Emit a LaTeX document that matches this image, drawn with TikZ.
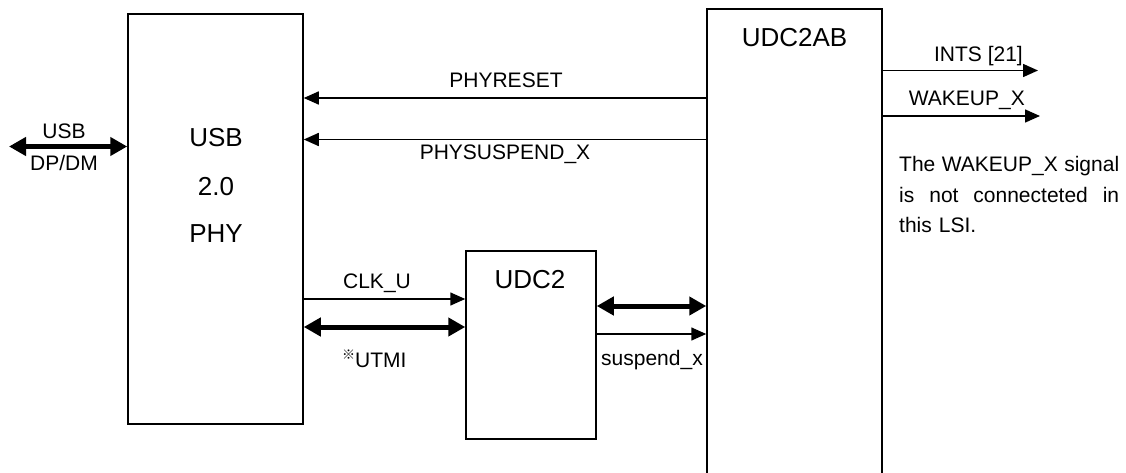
\documentclass[tikz,border=0pt]{standalone}
\usepackage{fontspec}
\setmainfont{Liberation Sans}
\newfontfamily\cjkfont{Noto Sans CJK JP}
\usetikzlibrary{arrows.meta, positioning}

\begin{document}
\begin{tikzpicture}[
    x=1pt, y=-1pt,
    blockbox/.style={rectangle, draw=black, line width=1.5pt, inner sep=0pt},
    bigtext/.style={font=\fontsize{26}{30}\selectfont, inner sep=0pt, anchor=base},
    sigtext/.style={font=\fontsize{21}{25}\selectfont, inner sep=0pt, anchor=base},
    arrow/.style={-{Triangle[length=15pt, width=13pt]}, line width=1.5pt},
    busarrow/.style={{Triangle[length=17pt, width=18pt]}-{Triangle[length=17pt, width=18pt]}, line width=5pt}
]
\useasboundingbox (0,0) rectangle (1126,473);

% blocks
\node[blockbox, minimum width=175pt, minimum height=410pt] (phy) at (215.5,219) {};
\node[blockbox, minimum width=130pt, minimum height=188pt] (udc) at (531,345) {};
\node[blockbox, minimum width=175pt, minimum height=480pt] (ab) at (794.5,249) {};

\node[bigtext] (phyusb) at (216,147) {USB};
\node[bigtext] (phyver) at (216,195) {2.0};
\node[bigtext] (phyname) at (216,242) {PHY};
\node[bigtext] (udcname) at (530,288) {UDC2};
\node[bigtext] (abname) at (794.5,47) {UDC2AB};

% USB port
\coordinate (usbend) at (9,146.5);
\draw[busarrow] (usbend) -- (phy.west |- usbend);
\node[sigtext] (usblbl) at (64,138.5) {USB};
\node[sigtext] (dplbl) at (64,170.5) {DP/DM};

% UDC2AB -> PHY
\draw[arrow] (ab.west |- 0,98) -- (phy.east |- 0,98);
\node[sigtext] (rstlbl) at (506,88) {PHYRESET};
\draw[arrow] (ab.west |- 0,139.5) -- (phy.east |- 0,139.5);
\node[sigtext] (susplbl) at (505,160) {PHYSUSPEND\_X};

% PHY <-> UDC2
\draw[arrow] (phy.east |- 0,299) -- (udc.west |- 0,299);
\node[sigtext] (clklbl) at (377,288) {CLK\_U};
\draw[busarrow] (phy.east |- 0,327) -- (udc.west |- 0,327);
\node[sigtext, anchor=base west] (utmilbl) at (342,367) {{\cjkfont\fontsize{13}{13}\selectfont\raisebox{8pt}{※}}UTMI};

% UDC2 <-> UDC2AB
\draw[busarrow] (udc.east |- 0,306) -- (ab.west |- 0,306);
\draw[arrow] (udc.east |- 0,334) -- (ab.west |- 0,334);
\node[sigtext] (sxlbl) at (652,365) {suspend\_x};

% outputs
\coordinate (intsend) at (1038,70.5);
\coordinate (wakeend) at (1040,116);
\draw[arrow] (ab.east |- intsend) -- (intsend);
\node[sigtext, anchor=base east] (intslbl) at (1023,62) {INTS [21]};
\draw[arrow] (ab.east |- wakeend) -- (wakeend);
\node[sigtext, anchor=base east] (wakelbl) at (1025,106) {WAKEUP\_X};

\node[font=\fontsize{21}{30.5}\selectfont, inner sep=0pt, anchor=north west, text width=220pt, align=left] (note) at (899,156.5)
  {\makebox[220pt]{The\hfill WAKEUP\_X\hfill signal}\\\makebox[220pt]{is\hfill not\hfill connecteted\hfill in}\\this LSI.};

\end{tikzpicture}
\end{document}
